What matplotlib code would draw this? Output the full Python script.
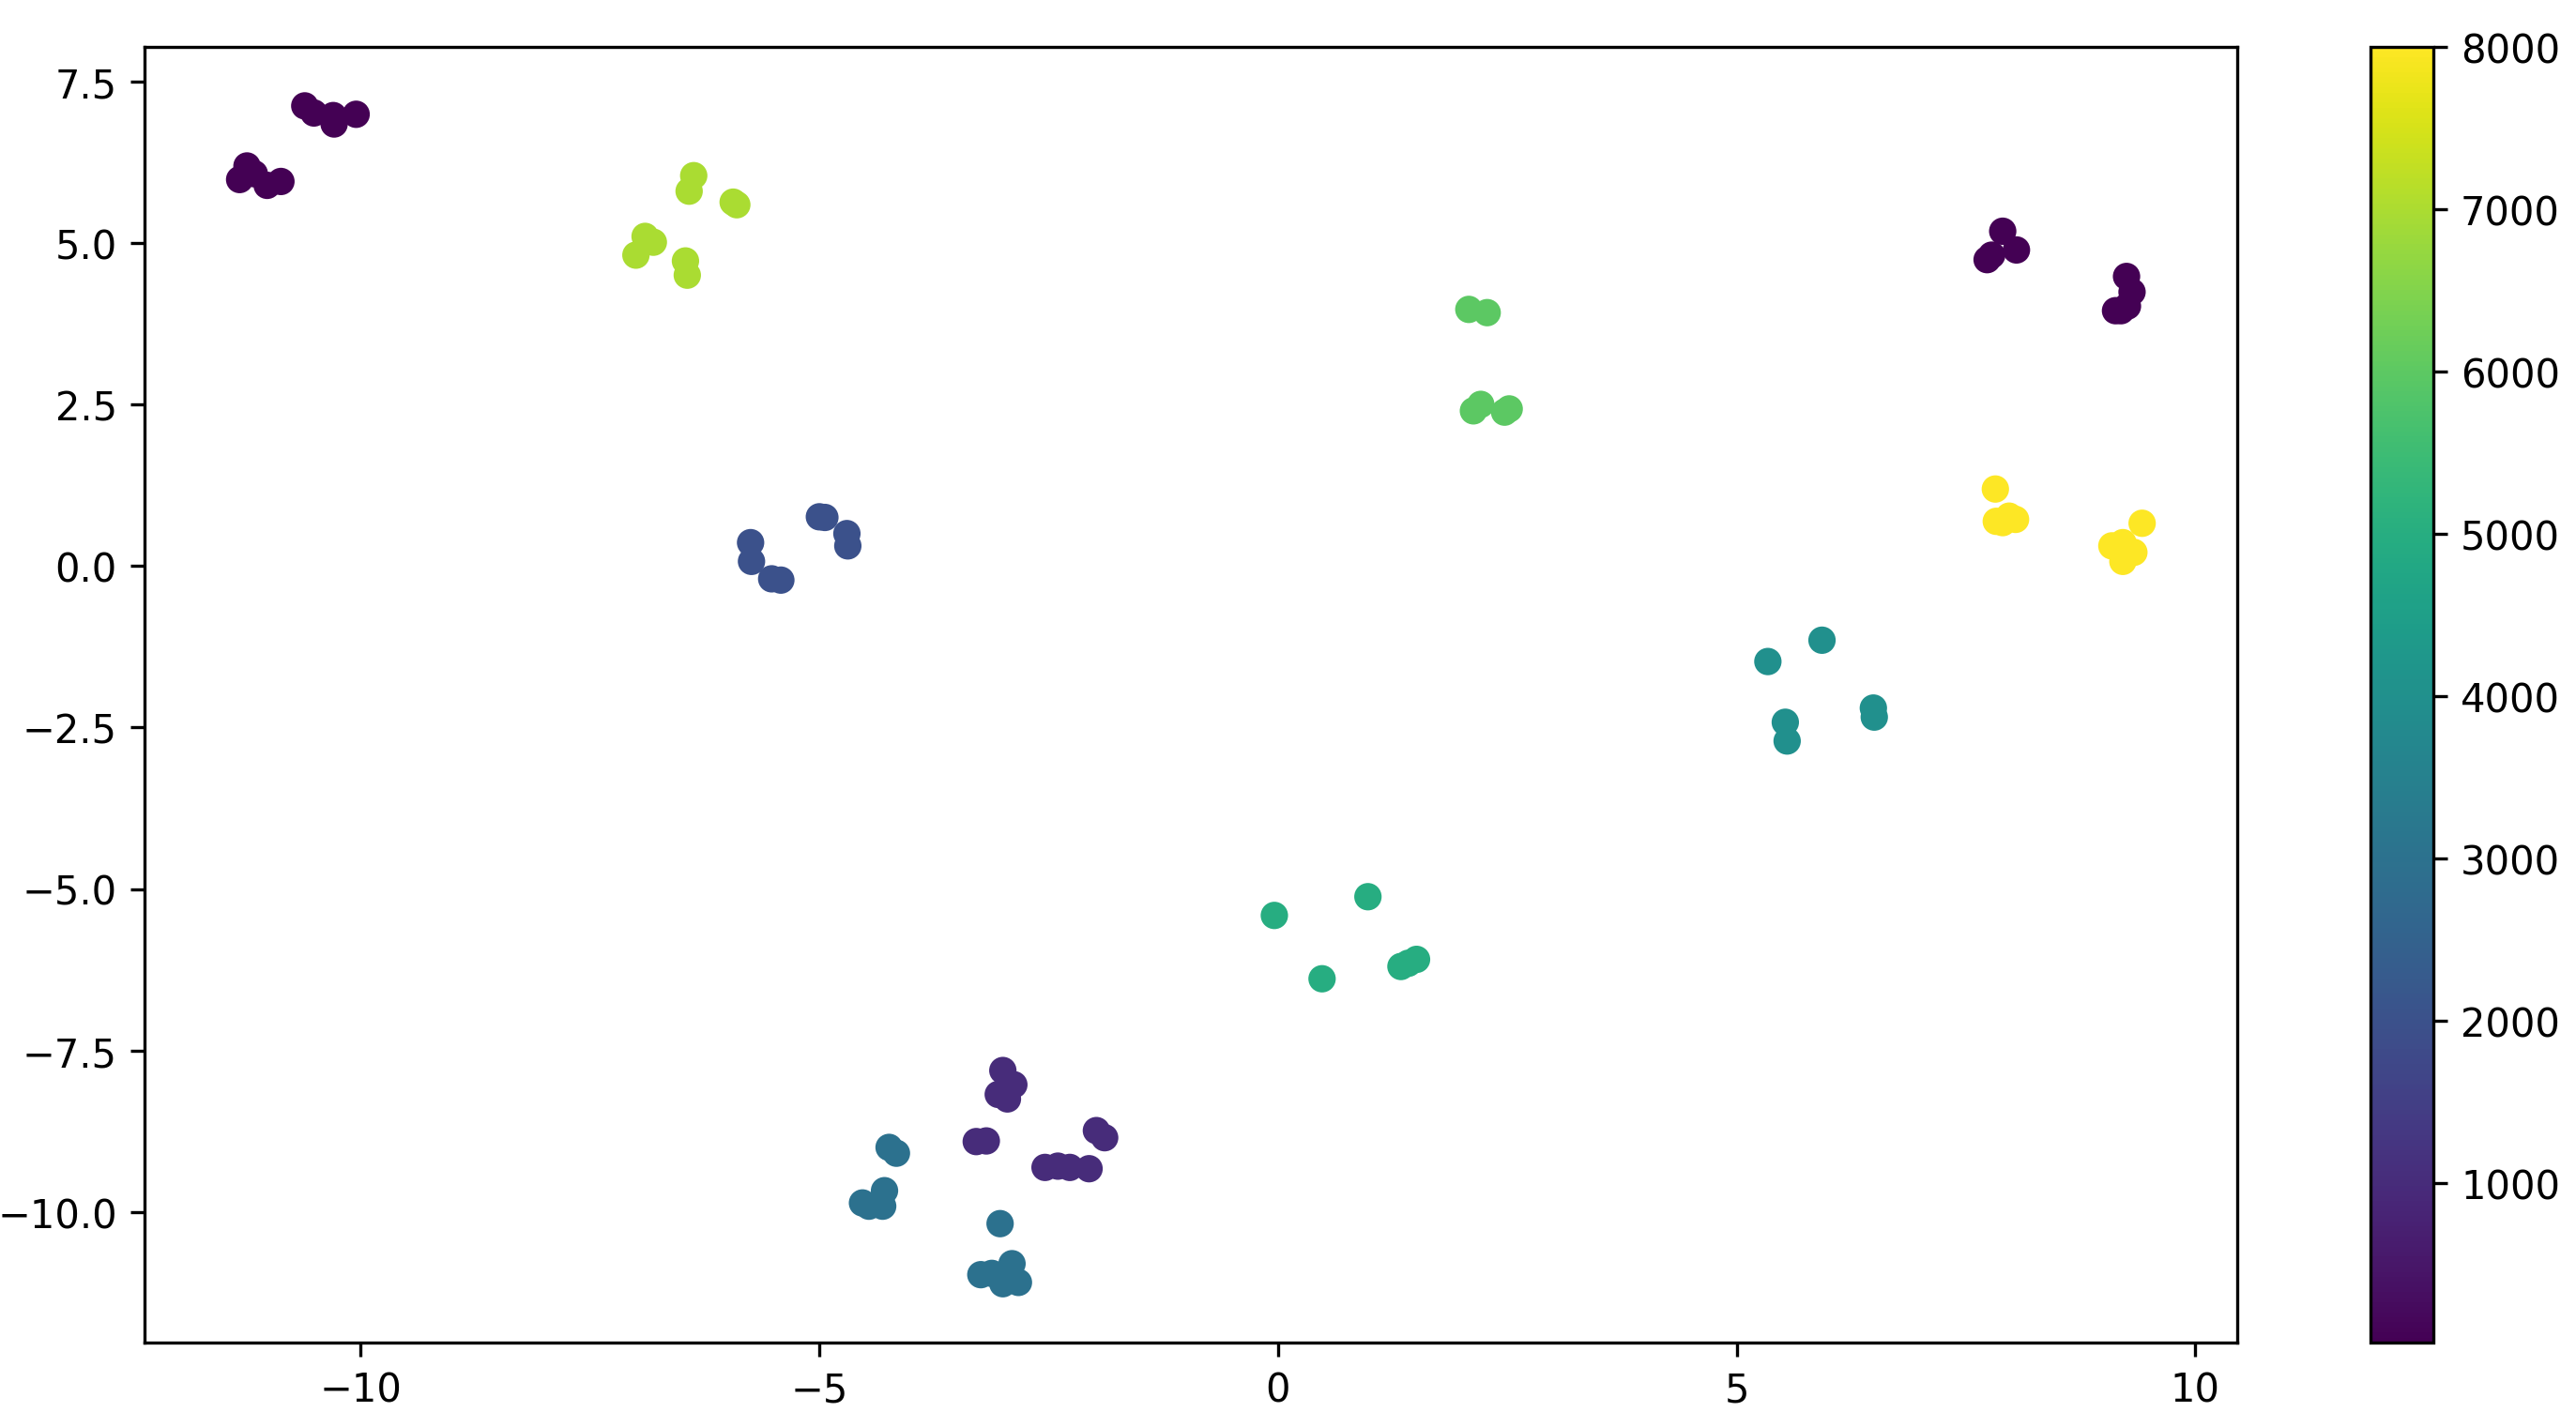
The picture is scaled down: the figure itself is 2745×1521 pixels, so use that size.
import numpy as np
import matplotlib
matplotlib.use('Agg')
import matplotlib.pyplot as plt

# cluster points (x, y), one colour value per cluster
x_c0 = [-10.61, -10.51, -10.29, -10.05, -10.30, -11.24, -11.32, -11.16, -11.02, -10.87]
y_c0 = [7.12, 7.01, 6.84, 6.99, 6.97, 6.19, 5.98, 6.07, 5.89, 5.95]

x_c7 = [-6.37, -6.42, -5.94, -5.90, -6.90, -6.81, -7.00, -6.46, -6.44]
y_c7 = [6.04, 5.80, 5.63, 5.59, 5.10, 5.01, 4.81, 4.72, 4.50]

x_c2 = [-5.00, -4.94, -4.70, -4.69, -5.75, -5.74, -5.52, -5.42]
y_c2 = [0.76, 0.75, 0.50, 0.31, 0.36, 0.07, -0.20, -0.22]

x_c6 = [2.08, 2.28, 2.13, 2.21, 2.47, 2.52]
y_c6 = [3.97, 3.92, 2.40, 2.50, 2.38, 2.43]

x_c0b = [7.90, 8.05, 7.73, 7.78, 9.25, 9.31, 9.19, 9.13, 9.26]
y_c0b = [5.18, 4.89, 4.74, 4.81, 4.48, 4.24, 3.95, 3.95, 4.02]

x_c8 = [7.82, 7.90, 8.04, 7.97, 7.83, 9.42, 9.09, 9.21, 9.33, 9.21]
y_c8 = [1.19, 0.67, 0.72, 0.77, 0.69, 0.66, 0.31, 0.36, 0.21, 0.07]

x_c4 = [5.34, 5.93, 5.53, 5.55, 6.49, 6.50]
y_c4 = [-1.48, -1.15, -2.42, -2.71, -2.20, -2.34]

x_c5 = [-0.04, 0.98, 0.48, 1.34, 1.42, 1.51]
y_c5 = [-5.41, -5.12, -6.39, -6.20, -6.15, -6.09]

x_c1 = [-3.00, -2.88, -3.05, -2.95, -3.29, -3.18, -1.98, -1.89, -2.54, -2.40, -2.27, -2.06]
y_c1 = [-7.81, -8.03, -8.18, -8.25, -8.91, -8.90, -8.74, -8.85, -9.31, -9.29, -9.31, -9.33]

x_c3 = [-4.24, -4.16, -4.29, -4.46, -4.31, -4.53,
        -3.03, -3.24, -3.12, -2.90, -3.00, -2.83]
y_c3 = [-9.00, -9.09, -9.67, -9.91, -9.91, -9.86,
        -10.18, -10.97, -10.95, -10.80, -11.11, -11.09]

clusters = [
    (x_c0, y_c0, 16),
    (x_c7, y_c7, 7000),
    (x_c2, y_c2, 2000),
    (x_c6, y_c6, 6000),
    (x_c0b, y_c0b, 16),
    (x_c8, y_c8, 8000),
    (x_c4, y_c4, 4000),
    (x_c5, y_c5, 5000),
    (x_c1, y_c1, 1000),
    (x_c3, y_c3, 3000),
]

xs, ys, cs = [], [], []
for cx, cy, val in clusters:
    xs += cx
    ys += cy
    cs += [val] * len(cx)

fig = plt.figure(figsize=(9.15, 5.073), dpi=300)
ax = fig.add_axes([0.0561, 0.0591, 0.8124, 0.9074])
cax = fig.add_axes([0.9202, 0.0591, 0.0244, 0.9074])

sc = ax.scatter(xs, ys, c=cs, cmap='viridis')
fig.colorbar(sc, cax=cax)

fig.savefig('out.png', dpi=300)
